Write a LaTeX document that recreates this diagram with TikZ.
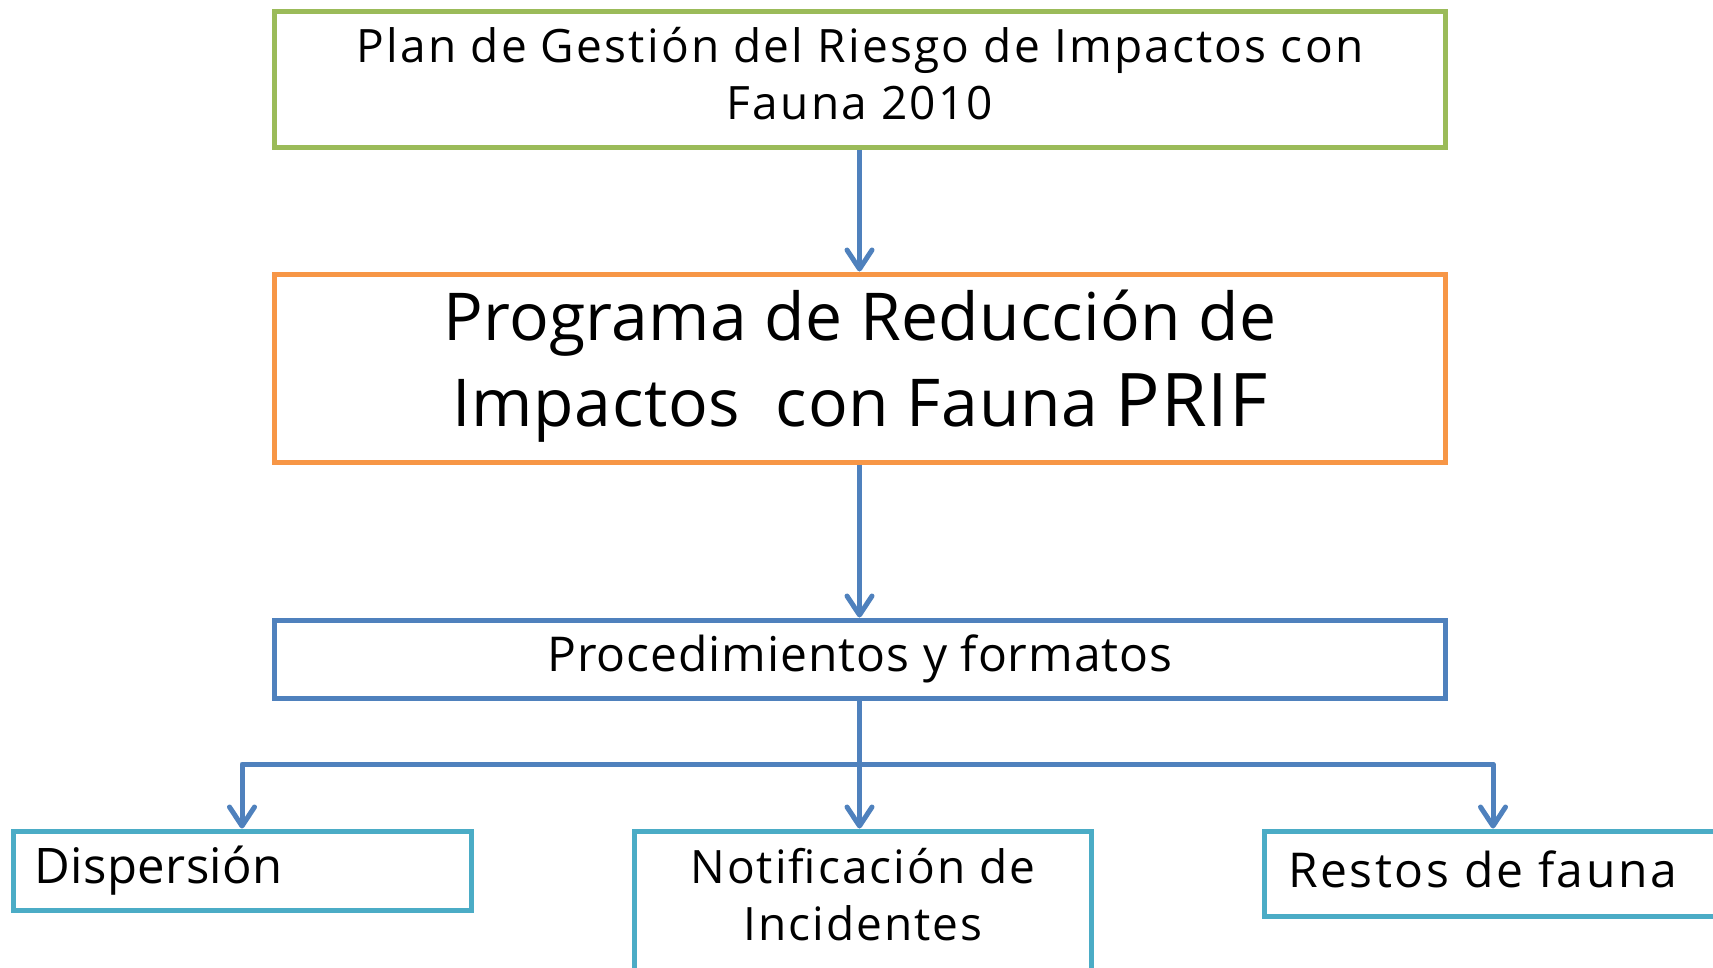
\documentclass[tikz,border=0pt]{standalone}
\usepackage{fontspec}
\setmainfont{Open Sans}[LetterSpace=2]
\usetikzlibrary{arrows.meta}
\definecolor{cgreen}{RGB}{155,187,89}
\definecolor{corange}{RGB}{247,150,70}
\definecolor{cblue}{RGB}{79,129,189}
\definecolor{cteal}{RGB}{75,172,198}
\begin{document}
\begin{tikzpicture}[x=1pt,y=-1pt,
  box/.style={draw, line width=5pt, inner sep=0pt, rectangle},
  lbl/.style={anchor=base, inner sep=0pt, text=black},
  arr/.style={draw=cblue, line width=5pt, line join=round, -{Straight Barb[length=19pt,width=25pt,line width=5pt,round]}},
  link/.style={draw=cblue, line width=5pt}]
\useasboundingbox (0,0) rectangle (1713,967);
\clip (0,0) rectangle (1713,967);
% boxes
\node[box, draw=cgreen, minimum width=1171pt, minimum height=136pt] (plan) at (859.5,79) {};
\node[box, draw=corange, minimum width=1171pt, minimum height=188pt] (prog) at (859.5,368) {};
\node[box, draw=cblue, minimum width=1171pt, minimum height=78pt] (proc) at (859.5,659) {};
\node[box, draw=cteal, minimum width=458pt, minimum height=79pt] (disp) at (242,870.5) {};
\node[box, draw=cteal, minimum width=457pt, minimum height=170pt] (notif) at (862.5,916) {};
\node[box, draw=cteal, minimum width=458pt, minimum height=85pt] (rest) at (1493,873.5) {};
% texts
\node[lbl, font=\fontsize{46}{57}\selectfont\addfontfeatures{LetterSpace=4.8}] (t1a) at (860,62) {Plan de Gestión del Riesgo de Impactos con};
\node[lbl, font=\fontsize{46}{57}\selectfont\addfontfeatures{LetterSpace=4.8}] (t1b) at (860,119) {Fauna 2010};
\node[lbl, font=\fontsize{66}{80}\selectfont\addfontfeatures{LetterSpace=0.5}] (t2a) at (860,340) {Programa de Reducción de};
\node[lbl, font=\fontsize{66}{80}\selectfont\addfontfeatures{LetterSpace=1}] (t2b) at (860,426) {Impactos~ con Fauna {\fontsize{74}{80}\selectfont PRIF}};
\node[lbl, font=\fontsize{48}{57}\selectfont] (t3) at (860,671) {Procedimientos y formatos};
\node[lbl, anchor=base west, font=\fontsize{49}{57}\selectfont\addfontfeatures{LetterSpace=1}] (t4) at (34,883) {Dispersión};
\node[lbl, font=\fontsize{46}{57}\selectfont\addfontfeatures{LetterSpace=4.5}] (t5a) at (863,883) {Notificación de};
\node[lbl, font=\fontsize{46}{57}\selectfont\addfontfeatures{LetterSpace=4.5}] (t5b) at (863,940) {Incidentes};
\node[lbl, anchor=base west, font=\fontsize{48}{57}\selectfont\addfontfeatures{LetterSpace=5.3}] (t6) at (1288,887) {Restos de fauna};
% connectors
\coordinate (j) at (859.5,764);
\draw[arr] (plan.south) -- (prog.north);
\draw[arr] (prog.south) -- (proc.north);
\draw[link] (proc.south) -- (j);
\draw[arr] (j) -| (disp.north);
\draw[arr] (j) -| (rest.north);
\draw[arr] (j) -- (j |- notif.north);
\end{tikzpicture}
\end{document}
